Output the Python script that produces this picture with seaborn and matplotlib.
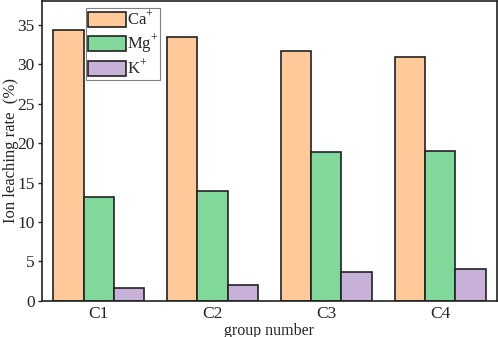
import pandas as pd
import matplotlib
matplotlib.use("Agg")
import matplotlib.pyplot as plt
import seaborn as sns

groups = ['C1', 'C2', 'C3', 'C4']
ions = ['Ca$^{+}$', 'Mg$^{+}$', 'K$^{+}$']
ca = [34.3, 33.5, 31.7, 30.9]
mg = [13.2, 13.9, 18.9, 19.0]
k = [1.7, 2.0, 3.7, 4.05]
colors = ['#FFC999', '#80D99A', '#C8B1D8']

if __name__ == '__main__':
    df = pd.DataFrame({'group': groups * 3,
                       'ion': [ions[0]] * 4 + [ions[1]] * 4 + [ions[2]] * 4,
                       'rate': ca + mg + k})

    sns.set_style("ticks")
    plt.rcParams['font.family'] = ['Liberation Serif', 'DejaVu Serif']
    plt.rcParams['mathtext.fontset'] = 'custom'
    plt.rcParams['mathtext.rm'] = 'Liberation Serif'

    fig = plt.figure(figsize=(4.98, 3.37), dpi=100)
    ax = fig.add_axes([0.084, 0.107, 0.914, 0.89])
    sns.barplot(data=df, x='group', y='rate', hue='ion', palette=colors,
                saturation=1, width=0.8, edgecolor='#222222', linewidth=1.2, ax=ax)

    ax.set_xlim(-0.5, 3.5)
    ax.set_ylim(0, 38)
    ax.set_yticks([0, 5, 10, 15, 20, 25, 30, 35])
    ax.set_xlabel('group number', fontsize=11.5)
    ax.set_ylabel('Ion leaching rate  (%)', fontsize=12)
    ax.xaxis.set_label_coords(0.5, -0.072)
    ax.yaxis.set_label_coords(-0.05, 0.5)
    ax.tick_params(axis='y', direction='out', labelsize=12.5, length=3, width=1, pad=2)
    ax.tick_params(axis='x', direction='in', labelsize=12.5, length=6, width=1, pad=4)
    for s in ax.spines.values():
        s.set_visible(True)
        s.set_linewidth(1.2)
        s.set_color('#222222')

    leg = ax.legend(loc='upper left', bbox_to_anchor=(0.097, 0.977), fontsize=12,
                    handlelength=2.3, handleheight=1.0, handletextpad=0.05,
                    labelspacing=0.2, borderpad=0.1, borderaxespad=0,
                    fancybox=False, framealpha=1)
    leg.get_frame().set_edgecolor('gray')
    leg.get_frame().set_linewidth(0.8)

    fig.savefig('out.png', dpi=100)
